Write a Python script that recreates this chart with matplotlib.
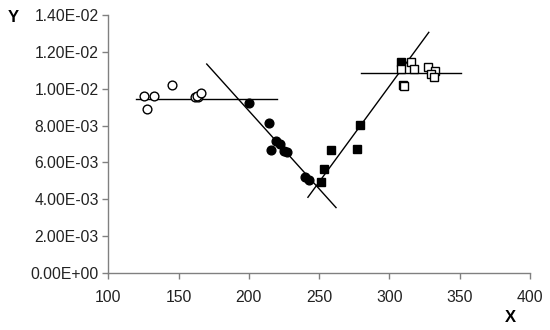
import matplotlib
matplotlib.use("Agg")
import matplotlib.pyplot as plt
from matplotlib.ticker import FuncFormatter

plt.rcParams['font.family'] = ['Liberation Sans', 'DejaVu Sans']

# open circles (left plateau)
open_circ_x = [125.6, 132.7, 127.3, 145.5, 161.6, 163.5, 162.8, 165.7]
open_circ_y = [9.62e-3, 9.62e-3, 8.92e-3, 1.022e-2, 9.53e-3, 9.53e-3, 9.62e-3, 9.75e-3]

# filled circles (descending part)
fill_circ_x = [200.2, 214.4, 215.4, 219.0, 222.2, 225.1, 227.2, 239.8, 242.9]
fill_circ_y = [9.22e-3, 8.12e-3, 6.69e-3, 7.15e-3, 7.00e-3, 6.62e-3, 6.55e-3, 5.21e-3, 5.05e-3]

# filled squares (ascending part)
fill_sq_x = [251.4, 253.5, 258.5, 276.8, 278.9, 308.3]
fill_sq_y = [4.95e-3, 5.66e-3, 6.69e-3, 6.75e-3, 8.03e-3, 1.147e-2]

# open squares (right plateau)
open_sq_x = [308.3, 315.4, 317.5, 309.5, 310.3, 327.4, 332.7, 329.4, 331.5]
open_sq_y = [1.108e-2, 1.147e-2, 1.107e-2, 1.02e-2, 1.015e-2, 1.116e-2, 1.096e-2, 1.080e-2, 1.065e-2]

# trend lines (end points)
plat1_x = [120, 220]
plat1_y = [9.45e-3, 9.45e-3]
down_x = [170, 262]
down_y = [1.134e-2, 3.55e-3]
up_x = [242, 328]
up_y = [4.11e-3, 1.306e-2]
plat2_x = [280, 351]
plat2_y = [1.085e-2, 1.085e-2]

fig = plt.figure(figsize=(5.5, 3.3), dpi=100)
ax = fig.add_axes([0.197, 0.1727, 0.7666, 0.7818])

for lx, ly in [(plat1_x, plat1_y), (down_x, down_y), (up_x, up_y), (plat2_x, plat2_y)]:
    ax.plot(lx, ly, color='black', lw=1.0, zorder=2)

ax.plot(open_circ_x, open_circ_y, 'o', ms=6.3, mfc='white', mec='black', mew=1.0, ls='none', zorder=3)
ax.plot(fill_circ_x, fill_circ_y, 'o', ms=6.3, mfc='black', mec='black', mew=1.0, ls='none', zorder=3)
ax.plot(fill_sq_x, fill_sq_y, 's', ms=5.6, mfc='black', mec='black', mew=1.0, ls='none', zorder=3)
ax.plot(open_sq_x, open_sq_y, 's', ms=5.6, mfc='white', mec='black', mew=1.0, ls='none', zorder=3)

ax.set_xlim(100, 400)
ax.set_ylim(0, 0.014)
ax.set_xticks(range(100, 401, 50))
ax.set_yticks([i * 0.002 for i in range(8)])
ax.yaxis.set_major_formatter(FuncFormatter(lambda v, p: f"{v:.2E}"))

for s in ['top', 'right']:
    ax.spines[s].set_visible(False)
for s in ['left', 'bottom']:
    ax.spines[s].set_color('#808080')
    ax.spines[s].set_linewidth(1.0)
ax.tick_params(direction='out', length=4, width=1.0, color='#808080',
               labelsize=11.3, labelcolor='#222222')
ax.tick_params(axis='x', pad=8)
ax.tick_params(axis='y', pad=3)

fig.text(13 / 550, 1 - 17 / 330, 'Y', fontsize=12, fontweight='bold', ha='center', va='center')
fig.text(510 / 550, 1 - 318 / 330, 'X', fontsize=12, fontweight='bold', ha='center', va='center')

fig.savefig('out.png', dpi=100)
